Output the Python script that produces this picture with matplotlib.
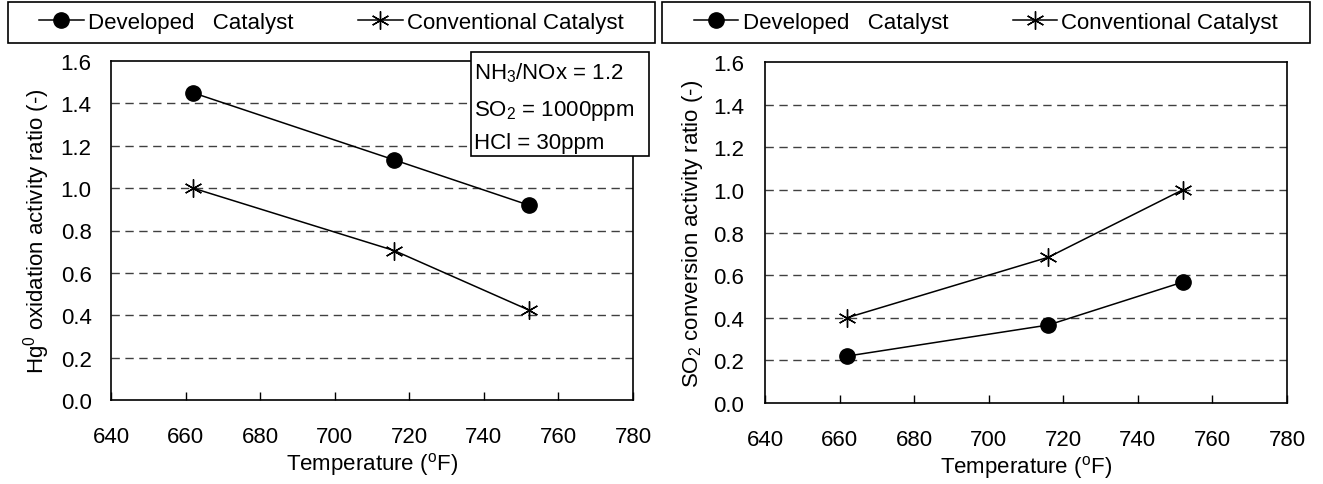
import matplotlib
matplotlib.use("Agg")
import matplotlib.pyplot as plt
from matplotlib.patches import Rectangle
from matplotlib.lines import Line2D

plt.rcParams['font.family'] = ['Liberation Sans', 'DejaVu Sans']
plt.rcParams['mathtext.fontset'] = 'custom'
plt.rcParams['mathtext.rm'] = 'Liberation Sans'
plt.rcParams['mathtext.it'] = 'Liberation Sans:italic'
plt.rcParams['mathtext.bf'] = 'Liberation Sans:bold'

# ---- data ----
temperature = [662, 716, 752]
hg_developed = [1.45, 1.133, 0.92]
hg_conventional = [1.0, 0.705, 0.425]
so2_developed = [0.22, 0.366, 0.567]
so2_conventional = [0.40, 0.684, 1.0]
series_labels = ["Developed   Catalyst", "Conventional Catalyst"]
x_ticks = [640, 660, 680, 700, 720, 740, 760, 780]
y_ticks = [0.0, 0.2, 0.4, 0.6, 0.8, 1.0, 1.2, 1.4, 1.6]
ylabel_left = "Hg$^{0}$ oxidation activity ratio (-)"
ylabel_right = "SO$_{2}$ conversion activity ratio (-)"
xlabel = "Temperature ($^{\\mathrm{o}}$F)"
conditions = ["NH$_{3}$/NOx = 1.2", "SO$_{2}$ = 1000ppm", "HCl = 30ppm"]

W, H = 1323, 485
fig = plt.figure(figsize=(W / 100, H / 100), dpi=100)

def px_axes(x0, x1, y0, y1):
    return fig.add_axes([x0 / W, 1 - y1 / H, (x1 - x0) / W, (y1 - y0) / H])

FS = 16
star = (6, 2, 0)

def setup(ax, dev, conv, ylabel, ypad, ylabpad):
    ax.plot(temperature, dev, color='black', lw=1.1, marker='o', ms=11,
            markerfacecolor='black', markeredgecolor='black', zorder=3)
    ax.plot(temperature, conv, color='black', lw=1.1, marker=star, ms=13,
            markeredgewidth=1.0, zorder=3)
    ax.set_xlim(640, 780)
    ax.set_ylim(0, 1.6)
    ax.set_xticks(x_ticks)
    ax.set_yticks(y_ticks)
    ax.set_xticklabels([str(t) for t in x_ticks])
    ax.set_yticklabels([f"{v:.1f}" for v in y_ticks])
    ax.tick_params(axis='x', direction='in', length=6, width=1, pad=19, labelsize=FS)
    ax.tick_params(axis='y', direction='in', length=0, width=1, pad=ypad, labelsize=FS)
    for g in y_ticks[1:-1]:
        ax.axhline(g, color='#404040', lw=1.0, ls=(0, (6, 4)), zorder=1)
    for s in ax.spines.values():
        s.set_linewidth(1.2)
        s.set_color('black')
    ax.set_xlabel(xlabel, fontsize=FS, labelpad=2)
    ax.set_ylabel(ylabel, fontsize=FS, labelpad=ylabpad)
    handles = [Line2D([], [], color='black', lw=1.1, marker='o', ms=11),
               Line2D([], [], color='black', lw=1.1, marker=star, ms=13, markeredgewidth=1.0)]
    return handles

axL = px_axes(111, 633, 62, 401)
hL = setup(axL, hg_developed, hg_conventional, ylabel_left, 14, 6)
axR = px_axes(765, 1287, 63, 404)
hR = setup(axR, so2_developed, so2_conventional, ylabel_right, 15, 6)

def add_legend(handles, x0, x1, y0, y1):
    leg = fig.legend(handles, series_labels, loc='center',
                     bbox_to_anchor=(x0 / W, 1 - y1 / H, (x1 - x0) / W, (y1 - y0) / H),
                     ncol=2, frameon=False, fontsize=FS,
                     handlelength=2.0, handletextpad=0.2, columnspacing=2.9,
                     borderaxespad=0, borderpad=0)
    fig.patches.append(Rectangle((x0 / W, 1 - y1 / H), (x1 - x0) / W, (y1 - y0) / H,
                                 transform=fig.transFigure, fill=False,
                                 edgecolor='black', lw=1.2))

add_legend(hL, 8, 655, 3, 44)
add_legend(hR, 662, 1310, 3, 44)

# conditions box on left panel
bx0, bx1, by0, by1 = 471, 649, 53, 157
fig.patches.append(Rectangle((bx0 / W, 1 - by1 / H), (bx1 - bx0) / W, (by1 - by0) / H,
                             transform=fig.transFigure, facecolor='white',
                             edgecolor='black', lw=1.2, zorder=5))
for txt, yc in zip(conditions, [73, 111, 143]):
    fig.text(474 / W, 1 - yc / H, txt, fontsize=FS, ha='left', va='center', zorder=6)

fig.savefig("out.png", dpi=100)
